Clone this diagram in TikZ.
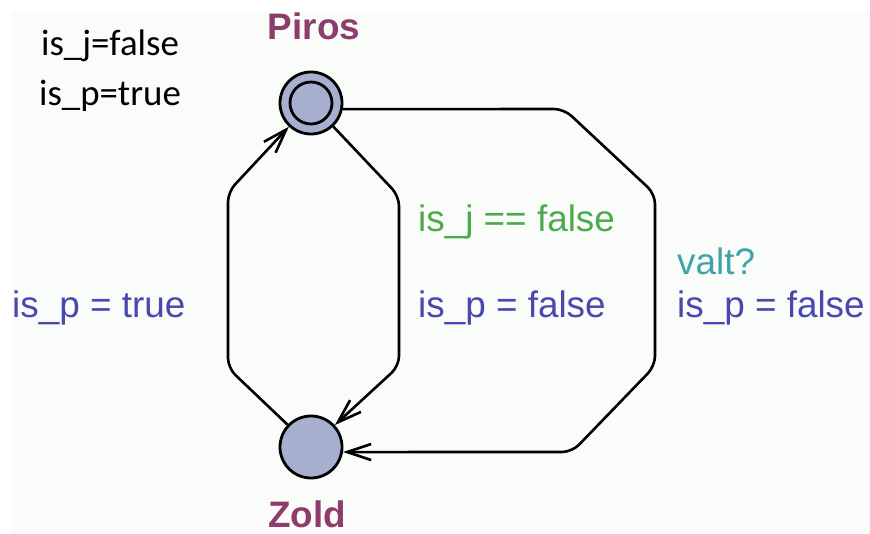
\documentclass[tikz,border=0pt]{standalone}
\usepackage{fontspec}
\setmainfont{Liberation Sans}
\newfontfamily\calfont{Carlito}
\usetikzlibrary{arrows.meta}
\definecolor{bgc}{HTML}{FAFCFA}
\definecolor{nodefill}{HTML}{A7AFCF}
\definecolor{plum}{HTML}{8E3C6C}
\definecolor{guardc}{HTML}{4BAA4B}
\definecolor{assignc}{HTML}{4848AE}
\definecolor{syncc}{HTML}{3FA3A8}
\tikzset{
  loc/.style={circle, draw=black, line width=2.8bp, fill=nodefill, minimum size=62bp, inner sep=0pt},
  edge/.style={draw=black, line width=2.6bp, rounded corners=10bp, line join=round,
    -{Straight Barb[length=24bp,width=16bp,line width=2.6bp]}},
  lname/.style={font=\fontsize{37}{40}\selectfont\bfseries, text=plum, inner sep=0pt},
  lbl/.style={font=\fontsize{37}{40}\selectfont, inner sep=0pt, anchor=base west},
  decl/.style={font=\calfont\fontsize{37}{40}\selectfont, inner sep=0pt, anchor=base, text=black},
}
\begin{document}
\begin{tikzpicture}[x=1bp,y=-1bp]
\useasboundingbox (0,0) rectangle (870,534);
\fill[white] (0,0) rectangle (870,534);
\fill[bgc] (12,12) rectangle (870,534);

\node[loc] (piros) at (311,103) {};
\node[circle, draw=black, line width=2.8bp, minimum size=42bp, inner sep=0pt] (pirosin) at (311,103) {};
\node[loc] (zold) at (311,447) {};

\node[lname, anchor=base] (pirosname) at (314,40) {Piros};
\node[lname, anchor=base] (zoldname) at (307,527) {Zold};

\node[decl] (d1) at (110,56) {is\_j=false};
\node[decl] (d2) at (110,106) {is\_p=true};

\draw[edge] (zold) -- (228,368) -- (228,192) -- (piros);
\draw[edge] (piros) -- (399,196) -- (399,366) -- (zold);
\draw[edge] (piros.-11) -- (564,109) -- (655,194) -- (655,366) -- (572,452) -- (zold.-9);

\node[lbl, text=assignc] (a1) at (12,318) {is\_p = true};
\node[lbl, text=guardc] (g1) at (418,232) {is\_j == false};
\node[lbl, text=assignc] (a2) at (418,318) {is\_p = false};
\node[lbl, text=syncc] (s1) at (677,275) {valt?};
\node[lbl, text=assignc] (a3) at (677,318) {is\_p = false};
\end{tikzpicture}
\end{document}
